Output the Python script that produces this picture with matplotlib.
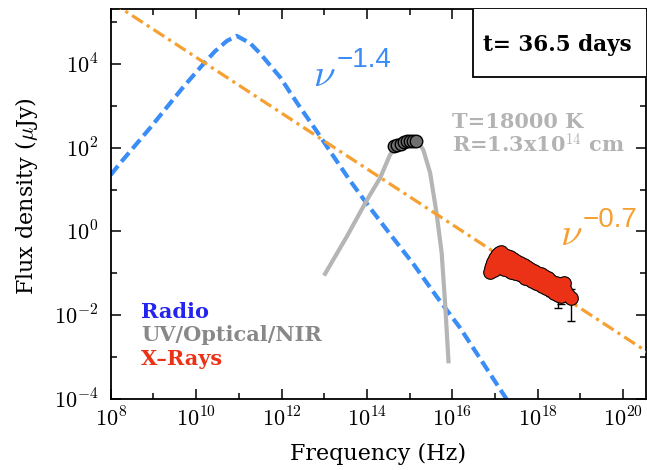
import numpy as np
import matplotlib
matplotlib.use("Agg")
import matplotlib.pyplot as plt
from matplotlib.ticker import FixedLocator, FuncFormatter, NullFormatter
from matplotlib.patches import Rectangle

plt.rcParams['font.family'] = ['DejaVu Serif']
plt.rcParams['mathtext.fontset'] = 'cm'

# ---- data (log10 of frequency in Hz, log10 of flux density in uJy) ----
# radio synchrotron model
radio_lognu = [8.00, 8.22, 8.92, 9.70, 10.17, 10.44, 10.72, 10.95, 11.26, 11.50,
               11.73, 11.97, 12.20, 12.43, 12.67, 12.82, 13.14, 13.60, 14.03,
               14.54, 15.09, 15.63, 16.18, 17.30]
radio_logf = [1.35, 1.63, 2.47, 3.45, 4.00, 4.30, 4.55, 4.67, 4.50, 4.25,
              3.97, 3.68, 3.32, 2.97, 2.62, 2.40, 1.91, 1.22, 0.62,
              -0.06, -0.78, -1.55, -2.30, -4.05]

# nu^-0.7 power law
pl_lognu = [8.00, 20.60]
pl_logf = [5.49, -2.90]

# blackbody, T=18000 K, R=1.3e14 cm
bb_lognu = [13.02, 13.53, 14.00, 14.31, 14.54, 14.70, 14.89, 15.10, 15.25,
            15.32, 15.48, 15.63, 15.75, 15.83, 15.91]
bb_logf = [-1.01, -0.12, 0.75, 1.28, 1.83, 2.05, 2.14, 2.14, 2.05,
           1.95, 1.40, 0.44, -0.51, -1.70, -3.10]

# UV/optical/NIR photometry
opt_lognu = [14.63, 14.71, 14.80, 14.87, 14.95, 15.01, 15.08, 15.15]
opt_logf = [2.03, 2.07, 2.09, 2.13, 2.15, 2.17, 2.17, 2.16]

# X-ray spectrum
xr_lognu = [16.88, 16.90, 16.93, 16.96, 17.00, 17.04, 17.09, 17.15, 16.97, 17.05, 17.12,
            17.21, 17.27, 17.34, 17.42, 17.50, 17.58, 17.67, 17.75, 17.83, 17.91,
            17.99, 18.07, 18.15, 18.23, 18.32, 18.42, 18.52, 18.62,
            17.20, 17.30, 17.38, 17.46, 17.55, 17.63, 17.71, 17.79, 17.87, 17.95,
            18.03, 18.11, 18.19, 18.28, 18.37, 18.47, 18.55, 18.70, 18.78,
            17.25, 17.40, 17.52, 17.65, 17.77, 17.90, 18.05, 18.20, 18.35, 18.50, 18.63]
xr_logf = [-0.97, -0.88, -0.80, -0.72, -0.64, -0.57, -0.52, -0.50, -0.93, -0.86, -0.80,
           -0.55, -0.58, -0.62, -0.66, -0.70, -0.76, -0.80, -0.85, -0.90, -0.94,
           -0.98, -1.02, -1.06, -1.12, -1.18, -1.22, -1.26, -1.22,
           -0.90, -0.92, -0.96, -0.98, -1.02, -1.05, -1.10, -1.14, -1.18, -1.22,
           -1.26, -1.30, -1.34, -1.40, -1.46, -1.52, -1.55, -1.52, -1.58,
           -0.75, -0.82, -0.88, -0.93, -1.00, -1.08, -1.15, -1.22, -1.30, -1.40, -1.40]
xr_err_lo = [0.0, 0.0, 0.0, 0.0, 0.05, 0.0, 0.0, 0.0, 0.0, 0.0, 0.0,
             0.0, 0.0, 0.0, 0.0, 0.0, 0.0, 0.0, 0.0, 0.0, 0.0,
             0.0, 0.0, 0.0, 0.0, 0.0, 0.0, 0.0, 0.0,
             0.0, 0.0, 0.0, 0.0, 0.0, 0.0, 0.0, 0.0, 0.0, 0.0,
             0.0, 0.0, 0.14, 0.13, 0.0, 0.30, 0.18, 0.15, 0.55,
             0.0, 0.0, 0.0, 0.0, 0.0, 0.0, 0.0, 0.0, 0.0, 0.0, 0.0]
xr_err_hi = [0.0, 0.0, 0.0, 0.0, 0.17, 0.10, 0.06, 0.0, 0.0, 0.0, 0.0,
             0.0, 0.0, 0.0, 0.0, 0.0, 0.0, 0.0, 0.0, 0.0, 0.0,
             0.0, 0.0, 0.0, 0.0, 0.0, 0.0, 0.0, 0.0,
             0.0, 0.0, 0.0, 0.0, 0.0, 0.0, 0.0, 0.0, 0.0, 0.0,
             0.0, 0.0, 0.05, 0.05, 0.0, 0.12, 0.10, 0.10, 0.20,
             0.0, 0.0, 0.0, 0.0, 0.0, 0.0, 0.0, 0.0, 0.0, 0.0, 0.0]

x_major = [8, 10, 12, 14, 16, 18, 20]
x_minor = [9, 11, 13, 15, 17, 19]
y_major = [-4, -2, 0, 2, 4]
y_minor = [-3, -1, 1, 3, 5]


def lin(a):
    return 10.0 ** np.asarray(a, dtype=float)


fig = plt.figure(figsize=(6.47, 4.70), dpi=100)
ax = fig.add_axes([0.1711, 0.1511, 0.8274, 0.8291])
ax.set_xscale('log')
ax.set_yscale('log')
ax.set_xlim(1e8, 10 ** 20.536)
ax.set_ylim(1e-4, 10 ** 5.305)

blue = '#3a8cf7'
orange = '#f5a030'

ax.plot(lin(radio_lognu), lin(radio_logf), color=blue, lw=3.0,
        dashes=(2.8, 1.3), zorder=2)
ax.plot(lin(pl_lognu), lin(pl_logf), color=orange, lw=2.3,
        dashes=(4.0, 1.5, 1.0, 1.5), zorder=3)
ax.plot(lin(bb_lognu), lin(bb_logf), color='#b5b5b5', lw=3.0, zorder=2.5)

ax.plot(lin(opt_lognu), lin(opt_logf), 'o', ms=9, mfc='#707070', mec='k',
        mew=1.0, zorder=5)

xf = lin(xr_logf)
lo = xf - lin(np.asarray(xr_logf) - np.asarray(xr_err_lo))
hi = lin(np.asarray(xr_logf) + np.asarray(xr_err_hi)) - xf
ax.errorbar(lin(xr_lognu), xf, yerr=[lo, hi], fmt='none', ecolor='k',
            elinewidth=1.0, capsize=3, capthick=1.0, zorder=6)
# outlined layer underneath, plain fill on top so the cloud keeps one outer rim
ax.plot(lin(xr_lognu), xf, 'o', ms=9, mfc='#ec3216', mec='k', mew=1.6, zorder=7)
ax.plot(lin(xr_lognu), xf, 'o', ms=9, mfc='#ec3216', mec='none', zorder=8)

# axes ticks
fmt = FuncFormatter(lambda v, p: r'$10^{%d}$' % int(round(np.log10(v))))
ax.xaxis.set_major_locator(FixedLocator(lin(x_major)))
ax.xaxis.set_minor_locator(FixedLocator(lin(x_minor)))
ax.yaxis.set_major_locator(FixedLocator(lin(y_major)))
ax.yaxis.set_minor_locator(FixedLocator(lin(y_minor)))
ax.xaxis.set_major_formatter(fmt)
ax.yaxis.set_major_formatter(fmt)
ax.xaxis.set_minor_formatter(NullFormatter())
ax.yaxis.set_minor_formatter(NullFormatter())
ax.tick_params(which='both', direction='in', top=True, right=True, width=1.1)
ax.tick_params(which='major', length=7, labelsize=16)
ax.tick_params(which='minor', length=4)
ax.tick_params(axis='x', which='major', pad=6)
ax.tick_params(axis='y', which='major', pad=9)
for s in ax.spines.values():
    s.set_linewidth(1.3)

ax.set_xlabel('Frequency (Hz)', fontsize=16)
ax.set_ylabel(r'Flux density ($\mu$Jy)', fontsize=16)
ax.xaxis.set_label_coords(0.5, -0.113)
ax.yaxis.set_label_coords(-0.132, 0.52)

# power-law slope annotations
ax.text(10 ** 12.74, 10 ** 3.47, r'$\nu$', color=blue, fontsize=28,
        ha='left', va='baseline')
ax.text(10 ** 13.28, 10 ** 3.92, '\u22121.4', color=blue, fontsize=20,
        family='Liberation Sans', ha='left', va='baseline')
ax.text(10 ** 18.52, 10 ** -0.32, r'$\nu$', color=orange, fontsize=28,
        ha='left', va='baseline')
ax.text(10 ** 19.06, 10 ** 0.11, '\u22120.7', color=orange, fontsize=20,
        family='Liberation Sans', ha='left', va='baseline')

# blackbody parameters
ax.text(10 ** 15.99, 10 ** 2.47, 'T=18000 K', color='#b3b3b3', fontsize=15,
        fontweight='bold', ha='left', va='baseline')
ax.text(10 ** 15.99, 10 ** 1.87, r'R=1.3x10$^{\mathbf{14}}$ cm', color='#b3b3b3',
        fontsize=15, fontweight='bold', ha='left', va='baseline')

# band labels
ax.text(0.057, 0.209, 'Radio', color='#2424ee', fontsize=15, fontweight='bold',
        transform=ax.transAxes, ha='left', va='baseline')
ax.text(0.057, 0.150, 'UV/Optical/NIR', color='#888888', fontsize=15,
        fontweight='bold', transform=ax.transAxes, ha='left', va='baseline')
ax.text(0.057, 0.088, 'X\u2013Rays', color='#ec3216', fontsize=15,
        fontweight='bold', transform=ax.transAxes, ha='left', va='baseline')

# epoch box
box = Rectangle((0.676, 0.827), 0.5, 0.3, transform=ax.transAxes,
                facecolor='white', edgecolor='k', lw=1.3, zorder=9)
ax.add_patch(box)
ax.text(0.834, 0.908, 't= 36.5 days', fontsize=15.5, fontweight='bold',
        transform=ax.transAxes, ha='center', va='center', zorder=10)

fig.savefig('out.png', dpi=100)
